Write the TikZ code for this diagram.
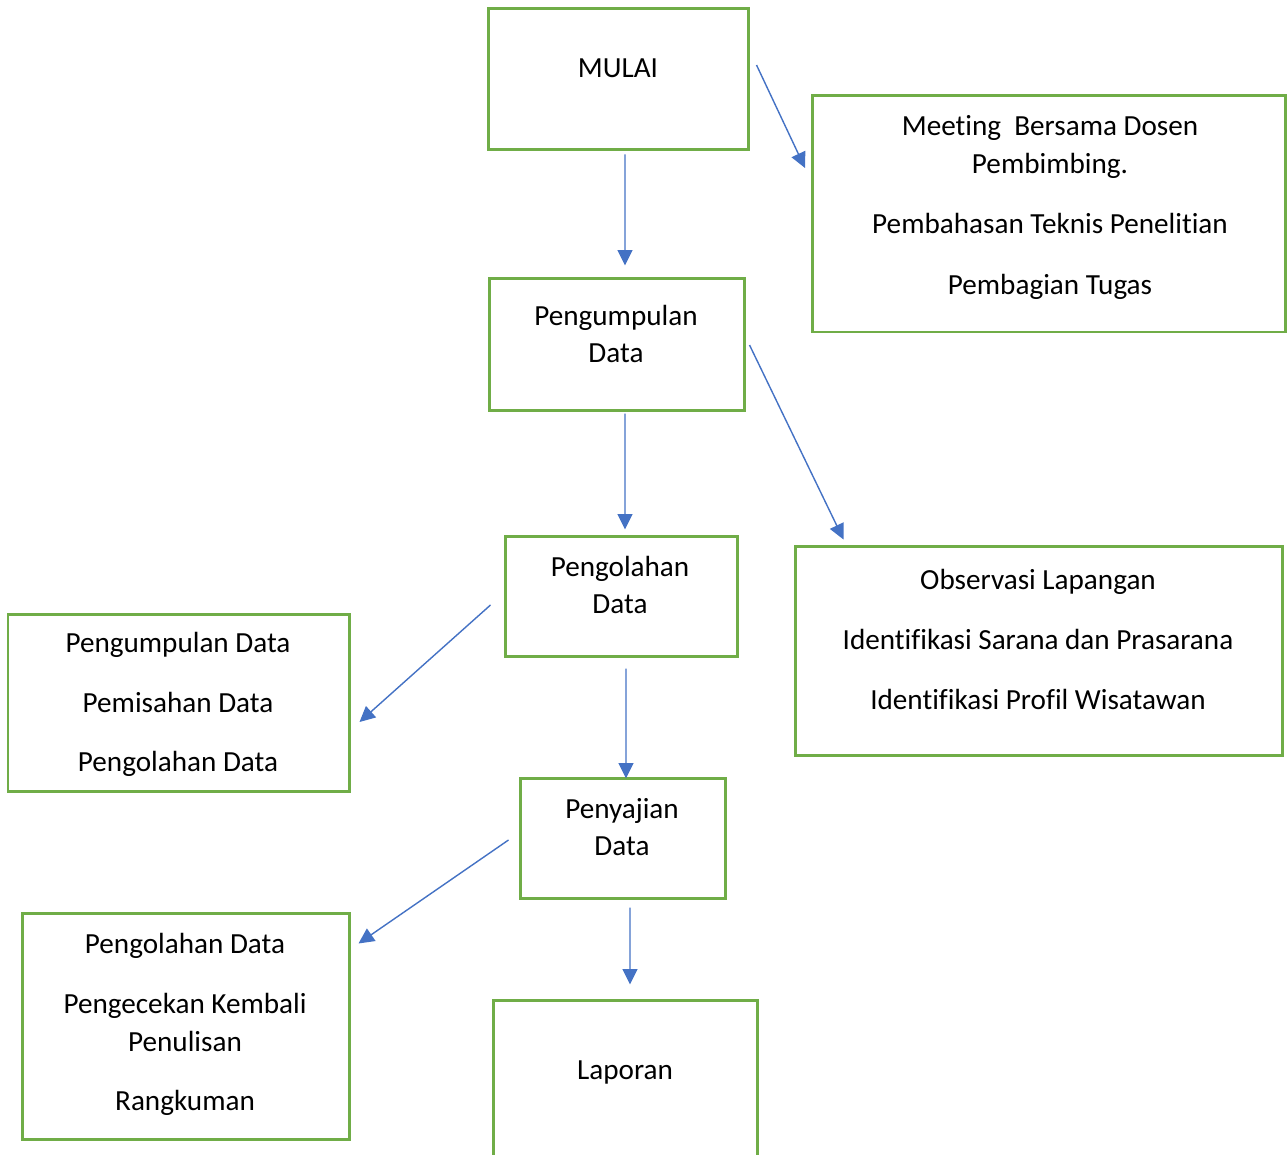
\documentclass[tikz,border=0pt]{standalone}
\usepackage{fontspec}
\setmainfont{Carlito}[Ligatures={NoCommon,NoContextual},RawFeature={-liga;-clig}]
\usepackage{xcolor}
\usetikzlibrary{arrows.meta,calc}
\definecolor{boxgreen}{HTML}{70AD47}
\definecolor{flowblue}{HTML}{4472C4}
\tikzset{
 box/.style={draw=boxgreen, line width=0.06cm, rectangle, inner sep=0pt},
 txt/.style={align=center, inner sep=0pt, font=\fontsize{16.6}{21.5}\selectfont},
 flow/.style={draw=flowblue, line width=0.8pt, -{Triangle[length=0.31cm,width=0.3cm]}}
}
\begin{document}
\begin{tikzpicture}[x=0.02cm, y=-0.02cm]
 \useasboundingbox (0,0) rectangle (1287,1155);
 % kotak utama
 \node [box, minimum width=260*0.02cm, minimum height=141*0.02cm] (mulai) at (618,79.5) {};
 \node [box, minimum width=473*0.02cm, minimum height=236*0.02cm] (meeting) at (1048.5,214) {};
 \node [box, minimum width=255*0.02cm, minimum height=131*0.02cm] (kumpul) at (616.5,344.5) {};
 \node [box, minimum width=232*0.02cm, minimum height=120*0.02cm] (olah) at (621,596) {};
 \node [box, minimum width=487*0.02cm, minimum height=209*0.02cm] (observasi) at (1038.5,650.5) {};
 \node [box, minimum width=341*0.02cm, minimum height=177*0.02cm] (tahapolah) at (178.5,702.5) {};
 \node [box, minimum width=205*0.02cm, minimum height=120*0.02cm] (saji) at (622.5,838) {};
 \node [box, minimum width=327*0.02cm, minimum height=226*0.02cm] (tahapsaji) at (185.5,1026) {};
 \node [box, minimum width=264*0.02cm, minimum height=180*0.02cm] (laporan) at (625,1090) {};
 %
 % teks
 \node [txt] (mulaiT) at (618,68) {MULAI};
 \node [txt] (meetingT) at (1050,207.5) {Meeting\ \ Bersama Dosen\\Pembimbing.\\[13pt]Pembahasan Teknis Penelitian\\[13pt]Pembagian Tugas};
 \node [txt] (kumpulT) at (616,334) {Pengumpulan\\Data};
 \node [txt] (olahT) at (620,585) {Pengolahan\\Data};
 \node [txt] (observasiT) at (1038,639.5) {Observasi Lapangan\\[12.5pt]Identifikasi Sarana dan Prasarana\\[12.5pt]Identifikasi Profil Wisatawan};
 \node [txt] (tahapolahT) at (178,704.5) {Pengumpulan Data\\[12.5pt]Pemisahan Data\\[12.5pt]Pengolahan Data};
 \node [txt] (sajiT) at (622,827) {Penyajian\\Data};
 \node [txt] (tahapsajiT) at (185,1024.5) {Pengolahan Data\\[12.5pt]Pengecekan Kembali\\Penulisan\\[12.5pt]Rangkuman};
 \node [txt] (laporanT) at (625,1072) {Laporan};
 %
 % panah
 \draw [flow] ($(mulai.south)+(7,3)$) -- ($(kumpul.north)+(8.5,-12)$);
 \draw [flow] ($(mulai.east)+(7,-14.5)$) -- ($(meeting.west)+(-5.5,-46)$);
 \draw [flow] ($(kumpul.south)+(8.5,2)$) -- ($(olah.north)+(4,-5)$);
 \draw [flow] ($(kumpul.east)+(4,0.5)$) -- ($(observasi.north west)+(50,-5)$);
 \draw [flow] ($(olah.south)+(5,11)$) -- ($(saji.north)+(3.5,2)$);
 \draw [flow] ($(olah.west)+(-13,9)$) -- ($(tahapolah.east)+(9,19.5)$);
 \draw [flow] ($(saji.west)+(-10,2)$) -- ($(tahapsaji.north east)+(8,32)$);
 \draw [flow] ($(saji.south)+(7.5,8)$) -- ($(laporan.north)+(5,-14)$);
\end{tikzpicture}
\end{document}
